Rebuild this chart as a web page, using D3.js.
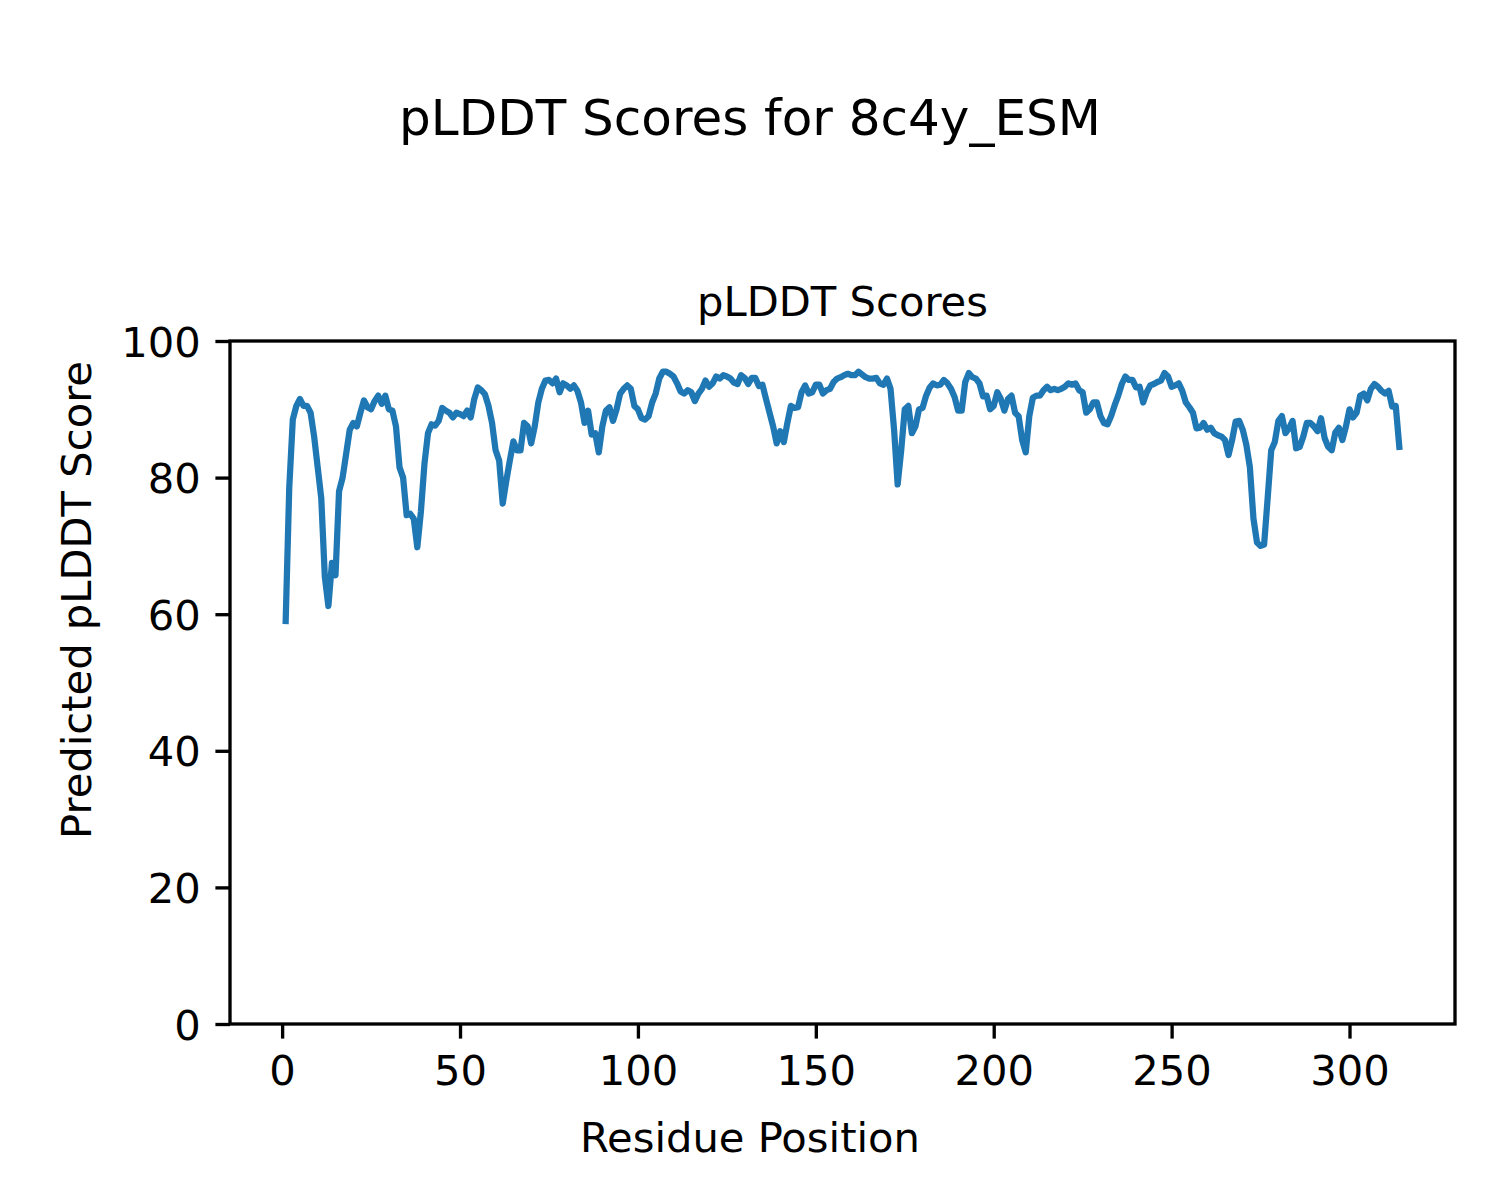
<!DOCTYPE html>
<html><head><meta charset="utf-8">
<script src="https://cdn.jsdelivr.net/npm/d3@7"></script>
<style>body{margin:0;background:#fff}svg text{font-family:"DejaVu Sans",sans-serif;fill:#000}</style>
</head><body>
<svg id="c" width="1500" height="1200"></svg>
<script>
const suptitle = "pLDDT Scores for 8c4y_ESM";
const axTitle = "pLDDT Scores";
const xLabel = "Residue Position";
const yLabel = "Predicted pLDDT Score";
const xTicks = [0, 50, 100, 150, 200, 250, 300];
const yTicks = [0, 20, 40, 60, 80, 100];
const scores = [
59,78.5,88.5,90.5,91.5,90.5,90.5,89.5,86,81.5,
77,65.5,61.2,67.5,65.7,78,80,83.5,87,88,
87.5,89.5,91.3,90.3,90,91.2,92,90.8,92,90,
89.8,87.5,81.5,80,74.5,74.7,74,69.8,75,82,
86.5,87.8,87.6,88.3,90.2,89.8,89.5,88.8,89.5,89.3,
89,89.8,88.8,91.5,93.2,92.8,92.2,90.5,88,84,
82.5,76.2,79.5,82.5,85.3,84,84,88,87.5,85,
87.5,91,93,94.2,94.3,93.8,94.5,92.5,93.8,93.5,
93,93.5,92.7,91,88,89.8,86.3,86.5,83.7,87.5,
89.8,90.3,88.3,90,92.3,93,93.5,93,90.5,90,
88.7,88.5,89,91,92.3,94.5,95.5,95.5,95.2,94.8,
93.8,92.6,92.3,92.8,92.5,91.2,92.3,93,94.2,93.3,
93.8,94.8,94.5,95,94.8,94.5,93.9,93.7,95,94.6,
93.7,94.6,94.6,93.4,93.6,91.5,89.5,87.5,85,86.8,
85.2,88,90.5,90.2,90.3,92.5,93.5,92.3,92.5,93.6,
93.6,92.3,92.8,93,94,94.5,94.7,95,95.2,95,
95,95.5,95.1,94.7,94.5,94.5,94.6,93.8,93.6,94.5,
93,87,79,84,90,90.5,86.5,87.5,90,90.2,
92,93.2,93.8,93.5,93.6,94.3,93.8,93,91.8,89.8,
89.8,94,95.3,94.7,94.5,93.8,91.9,92,90,90.5,
92.5,91.5,89.8,91.5,92,89.5,89,85.5,83.7,89,
91.7,92,92,92.8,93.3,92.8,93,92.8,93,93.3,
93.8,93.6,93.8,92.8,92.5,89.5,90,91,91,89,
88,87.8,89,90.6,92,93.7,94.8,94.3,94.3,93.2,
93.3,91,92.5,93.5,93.7,94,94.2,95.3,94.8,93.3,
93.5,93.8,92.7,91,90.3,89.5,87.2,87.3,88,87,
87.3,86.5,86.2,86,85.5,83.3,85.5,88.2,88.3,87,
84.8,81.5,74,70.5,70,70.2,77,84,85.2,88.3,
89,86.5,87.2,88.3,84.3,84.5,86,88,88,87.5,
86.8,88.7,85.8,84.5,84,86.6,87.3,85.5,87.5,90,
88.8,89.5,92,92.3,91.3,93,93.7,93.3,92.7,92.3,
92.7,90.4,90.5,84.5
];
const residues = scores.map((_, i) => i + 1);

const svg = d3.select("#c");
const W = 1500, H = 1200;
const L = 230, R = 1455, T = 341, B = 1024;
const n = residues.length;
const pad = (residues[n-1] - residues[0]) * 0.05;
const x = d3.scaleLinear().domain([residues[0] - pad, residues[n-1] + pad]).range([L, R]);
const y = d3.scaleLinear().domain([0, 100]).range([B, T]);

const fs = 41.67;
const tickLen = 14.6;

svg.append("text").attr("x", W / 2).attr("y", 135).attr("text-anchor", "middle")
  .style("font-size", "50px").text(suptitle);
svg.append("text").attr("x", (L + R) / 2).attr("y", 316).attr("text-anchor", "middle")
  .style("font-size", fs + "px").text(axTitle);

const line = d3.line().x((d, i) => x(residues[i])).y(d => y(d));
svg.append("path").datum(scores).attr("d", line).attr("fill", "none")
  .attr("stroke", "#1f77b4").attr("stroke-width", 6.25).attr("stroke-linejoin", "round").attr("stroke-linecap", "square");

const xa = svg.append("g").attr("transform", `translate(0,${B})`)
  .call(d3.axisBottom(x).tickValues(xTicks).tickSize(tickLen).tickPadding(14.6));
const ya = svg.append("g").attr("transform", `translate(${L},0)`)
  .call(d3.axisLeft(y).tickValues(yTicks).tickSize(tickLen).tickPadding(14.6));
[xa, ya].forEach(g => {
  g.select(".domain").remove();
  g.selectAll("line").attr("stroke", "#000").attr("stroke-width", 3.33);
  g.selectAll("text").style("font-size", fs + "px").style("font-family", '"DejaVu Sans",sans-serif').attr("fill", "#000");
});
xa.selectAll("text").attr("dy", "0.76em");
ya.selectAll("text").attr("dy", "0.36em");

svg.append("rect").attr("x", L).attr("y", T).attr("width", R - L).attr("height", B - T)
  .attr("fill", "none").attr("stroke", "#000").attr("stroke-width", 3.33);

svg.append("text").attr("x", W / 2).attr("y", 1152).attr("text-anchor", "middle")
  .style("font-size", fs + "px").text(xLabel);
svg.append("text").attr("transform", `translate(91,${H / 2}) rotate(-90)`).attr("text-anchor", "middle")
  .style("font-size", fs + "px").text(yLabel);
</script>
</body></html>
